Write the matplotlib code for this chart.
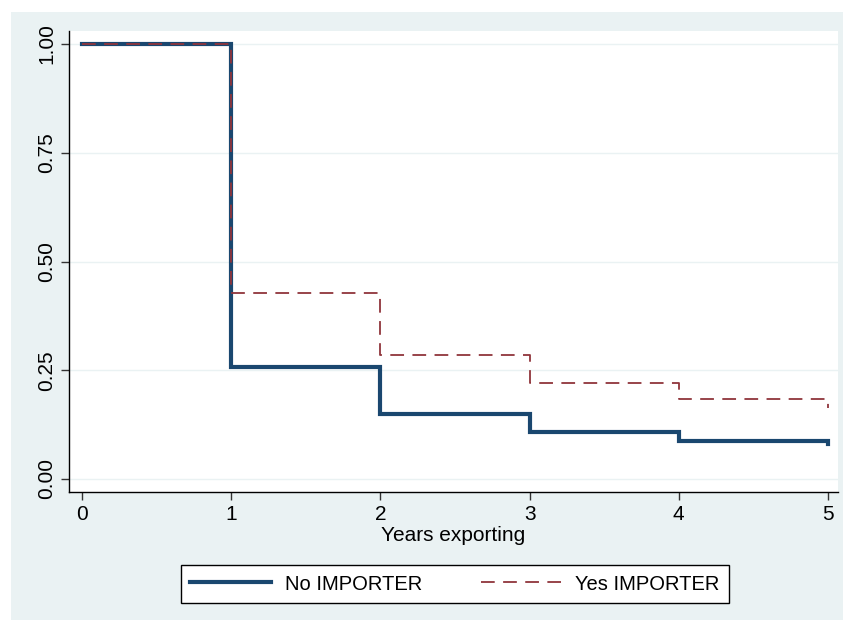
import matplotlib
matplotlib.use("Agg")
import matplotlib.pyplot as plt
from matplotlib.patches import Rectangle

plt.rcParams['font.family'] = ['Liberation Sans', 'DejaVu Sans']

years = [0, 1, 2, 3, 4, 5]
no_importer = [1.0, 0.257, 0.149, 0.108, 0.087, 0.080]
yes_importer = [1.0, 0.428, 0.285, 0.221, 0.184, 0.163]
yticks = [0.0, 0.25, 0.5, 0.75, 1.0]
ytick_labels = ["0.00", "0.25", "0.50", "0.75", "1.00"]
xticks = [0, 1, 2, 3, 4, 5]

W, H = 845, 621
fig = plt.figure(figsize=(W / 100, H / 100), dpi=100, facecolor='white')
fig.patches.append(Rectangle((11 / W, 1 - 620 / H), (843 - 11) / W, (620 - 12) / H,
                             transform=fig.transFigure, facecolor='#eaf2f3',
                             edgecolor='none', zorder=-10))

ax = fig.add_axes([69 / W, 1 - 492 / H, (838 - 69) / W, (492 - 31) / H])
ax.set_zorder(1)
ax.set_facecolor('white')

# step plots: value at t holds until next time
xs_no = [years[0]]
ys_no = [no_importer[0]]
for i in range(1, len(years)):
    xs_no += [years[i], years[i]]
    ys_no += [no_importer[i - 1], no_importer[i]]
xs_yes = [years[0]]
ys_yes = [yes_importer[0]]
for i in range(1, len(years)):
    xs_yes += [years[i], years[i]]
    ys_yes += [yes_importer[i - 1], yes_importer[i]]

ax.plot(xs_no, ys_no, color='#1a476f', lw=3.0, solid_joinstyle='miter',
        label='No IMPORTER', zorder=3)
ax.plot(xs_yes, ys_yes, color='#90353b', lw=1.3, dashes=(7.6, 4.65),
        label='Yes IMPORTER', zorder=4)

ax.set_xlim(-0.087, 5.067)
ax.set_ylim(-0.03, 1.03)
ax.set_yticks(yticks)
ax.set_yticklabels(ytick_labels, rotation=90, va='center')
ax.set_xticks(xticks)
ax.grid(axis='y', color='#eaf2f3', lw=1.0)
ax.set_axisbelow(True)
for s in ['top', 'right']:
    ax.spines[s].set_visible(False)
for s in ['left', 'bottom']:
    ax.spines[s].set_color('black')
    ax.spines[s].set_linewidth(1.0)
ax.tick_params(axis='both', direction='out', length=6, width=1, color='#333333',
               labelsize=15, pad=3)
ax.set_xlabel('Years exporting', fontsize=15, labelpad=2)

leg = fig.legend(loc='center', bbox_to_anchor=(455 / W, 1 - 584 / H), ncol=2,
                 frameon=True, fancybox=False, fontsize=14.5, handlelength=4.0,
                 columnspacing=2.9, borderpad=0.45, handletextpad=0.7,
                 framealpha=1.0)
leg.set_zorder(5)
leg.get_frame().set_edgecolor('black')
leg.get_frame().set_linewidth(1.0)
leg.get_frame().set_facecolor('white')

fig.savefig('out.png', dpi=100, facecolor='white')
